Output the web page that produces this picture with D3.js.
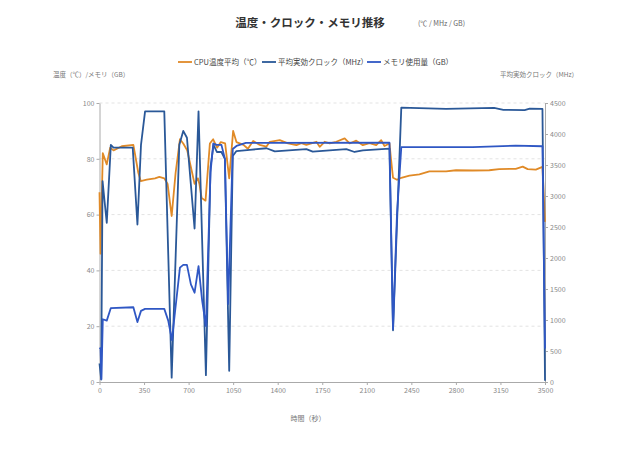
<!DOCTYPE html>
<html><head><meta charset="utf-8">
<script src="https://cdn.jsdelivr.net/npm/d3@7"></script>
<style>
body{margin:0;background:#fff;}
text{font-family:"Noto Sans CJK JP","Noto Sans",sans-serif;}
</style></head>
<body><svg id="c" width="620" height="466"></svg>
<script>
const xTicks = [0,350,700,1050,1400,1750,2100,2450,2800,3150,3500];
const leftTicks = [0,20,40,60,80,100];
const rightTicks = [0,500,1000,1500,2000,2500,3000,3500,4000,4500];

const tempTimes = [0,8,26,57,84,110,175,266,305,324,371,436,470,509,535,567,598,632,658,689,723,747,773,785,802,833,867,893,924,953,987,1019,1050,1076,1131,1166,1207,1259,1312,1338,1416,1481,1547,1586,1625,1704,1730,1769,1808,1860,1926,1965,2017,2069,2121,2174,2213,2239,2278,2290,2306,2337,2371,2435,2513,2592,2723,2801,2932,3062,3140,3270,3325,3364,3428,3480,3500];
const tempValues = [68,46,82,78,84,83,84.5,85,75,72,72.5,73,73.5,73,71,59.5,75,87,85.5,83,76,71,73,71,66,65,85.5,87,84,86,85.5,73,90,86,85,83.6,86.4,85,84.4,86.1,86.7,85.5,84.9,85.6,85,86.1,84.3,86.1,85.5,86.1,87.3,85.5,86.5,84.9,85.6,84.9,86.7,84.6,85.5,80,73.2,72.5,73.2,74,74.4,75.5,75.5,75.9,75.8,75.9,76.3,76.4,77.2,76.3,76.1,77.1,57.4];

const clockTimes = [0,13,24,57,89,110,261,298,326,358,509,567,627,658,687,747,778,836,872,896,922,958,985,1019,1047,1076,1181,1312,1377,1625,1675,1939,2004,2069,2278,2306,2371,2723,3100,3173,3340,3380,3480,3500];
const clockValuesMHz = [300,40,3240,2565,3825,3780,3780,2540,3825,4365,4365,70,3825,4050,3940,2475,4365,110,3465,3825,3710,3710,3600,180,3645,3725,3745,3770,3720,3755,3715,3755,3710,3735,3765,835,4425,4405,4420,4390,4385,4410,4405,20];

const memTimes = [0,8,15,26,57,89,266,298,326,358,509,540,569,593,632,658,687,718,747,778,807,836,872,894,920,958,985,1011,1047,1076,1150,2278,2306,2337,2371,2932,3270,3480,3500];
const memValues = [12.3,12,1,22.5,22,26.5,26.8,21.5,25.5,26.2,26.2,22,15,25,41,42,42,35,32,41.5,29,20,75,85.5,85,85,80,28,83.5,84.6,85.7,85.8,19,60,84.2,84.2,84.7,84.5,12];

const seriesNames = ["CPU温度平均（℃）","平均実効クロック（MHz）","メモリ使用量（GB）"];
const colors = ["#e08a27","#2a5898","#2f57c4"];

const svg = d3.select("#c");
const m = {l:99.5, r:545, t:103, b:382};
const x = d3.scaleLinear().domain([0,3500]).range([m.l,m.r]);
const yL = d3.scaleLinear().domain([0,100]).range([m.b,m.t]);
const yR = d3.scaleLinear().domain([0,4500]).range([m.b,m.t]);
const fmt = d3.format("d");

// grid
svg.append("g").selectAll("line").data(leftTicks.filter(d=>d>0)).join("line")
  .attr("x1",m.l).attr("x2",m.r).attr("y1",d=>yL(d)).attr("y2",d=>yL(d))
  .attr("stroke","#e3e3e3").attr("stroke-dasharray","3,3").attr("stroke-width",1);

const tickFont = 7;
function styleAxis(g){
  g.selectAll("path").attr("stroke","#aaa");
  g.selectAll("line").attr("stroke","#aaa");
  g.selectAll("text").attr("fill","#888").style("font-size",tickFont+"px");
}
svg.append("g").attr("transform",`translate(0,${m.b})`)
  .call(d3.axisBottom(x).tickValues(xTicks).tickFormat(fmt).tickSize(3).tickSizeOuter(0).tickPadding(3.5))
  .call(styleAxis);
svg.append("g").attr("transform",`translate(${m.l},0)`)
  .call(d3.axisLeft(yL).tickValues(leftTicks).tickFormat(fmt).tickSize(3).tickSizeOuter(0).tickPadding(2))
  .call(styleAxis);
svg.append("g").attr("transform",`translate(${m.r},0)`)
  .call(d3.axisRight(yR).tickValues(rightTicks).tickFormat(fmt).tickSize(3).tickSizeOuter(0).tickPadding(2))
  .call(styleAxis);

// lines
const mk = (ts,vs,ys)=>d3.line().x((d,i)=>x(ts[i])).y((d,i)=>ys(vs[i]))(vs);
svg.append("path").attr("d",mk(tempTimes,tempValues,yL)).attr("fill","none").attr("stroke",colors[0]).attr("stroke-width",1.8).attr("stroke-linejoin","round");
svg.append("path").attr("d",mk(clockTimes,clockValuesMHz,yR)).attr("fill","none").attr("stroke",colors[1]).attr("stroke-width",1.8).attr("stroke-linejoin","round");
svg.append("path").attr("d",mk(memTimes,memValues,yL)).attr("fill","none").attr("stroke",colors[2]).attr("stroke-width",1.8).attr("stroke-linejoin","round");

// title
svg.append("text").attr("x",310).attr("y",27).attr("text-anchor","middle")
  .style("font-size","11.5px").style("font-weight","bold").attr("fill","#333").text("温度・クロック・メモリ推移");
svg.append("text").attr("x",418).attr("y",26)
  .style("font-size","7px").attr("fill","#666").text("(℃ / MHz / GB)");

// legend
const legX = [178,262,367];
seriesNames.forEach((n,i)=>{
  svg.append("line").attr("x1",legX[i]).attr("x2",legX[i]+14).attr("y1",62).attr("y2",62)
    .attr("stroke",colors[i]).attr("stroke-width",1.8);
  svg.append("text").attr("x",legX[i]+16).attr("y",64.5).style("font-size","7.5px").attr("fill","#444").text(n);
});

// axis titles
svg.append("text").attr("x",53).attr("y",77).style("font-size","6.5px").attr("fill","#777").text("温度（℃）/メモリ（GB）");
svg.append("text").attr("x",500).attr("y",77).style("font-size","6.5px").attr("fill","#777").text("平均実効クロック（MHz）");
svg.append("text").attr("x",308).attr("y",421).attr("text-anchor","middle").style("font-size","7px").attr("fill","#777").text("時間（秒）");
</script></body></html>
